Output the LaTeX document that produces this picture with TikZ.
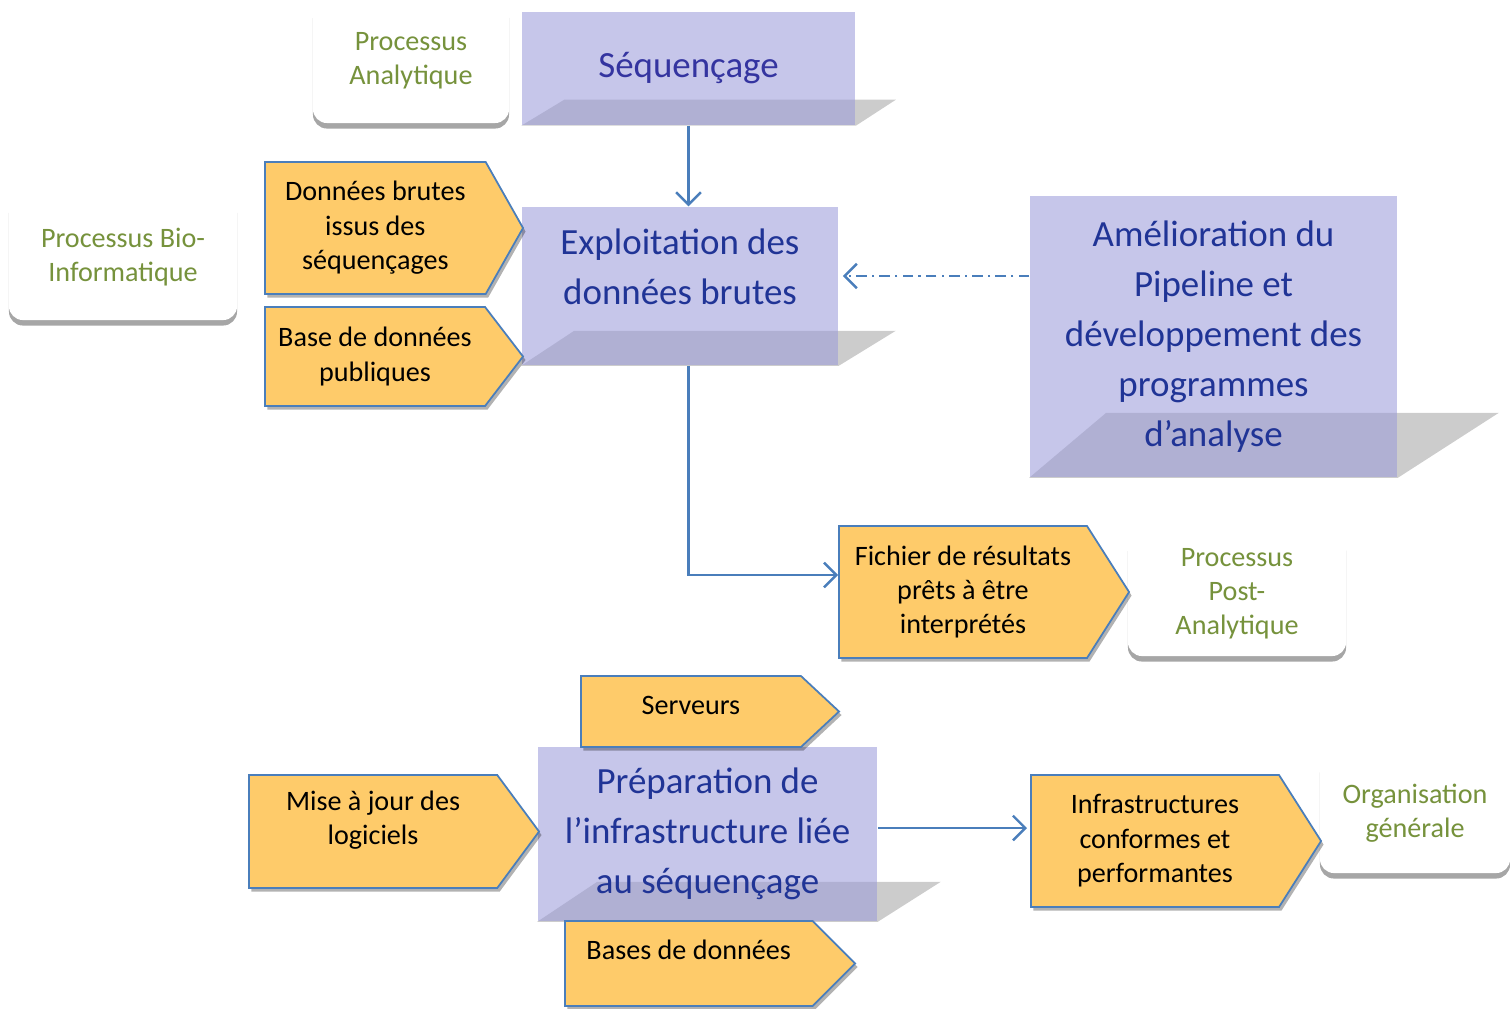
\documentclass[tikz,border=0pt]{standalone}
\usepackage{fontspec}
\setmainfont{Carlito}
\usetikzlibrary{arrows.meta}
\usetikzlibrary{shapes.symbols}
\usetikzlibrary{shadows}
\usetikzlibrary{calc}

\definecolor{lavender}{RGB}{155,155,218}
\definecolor{slabgray}{RGB}{204,204,204}
\definecolor{gold}{RGB}{254,203,106}
\definecolor{linkblue}{RGB}{74,126,187}
\definecolor{taskblue}{RGB}{32,52,150}
\definecolor{taskviolet}{RGB}{52,52,160}
\definecolor{taggreen}{RGB}{118,146,60}

\pgfdeclarelayer{background}
\pgfsetlayers{background,main}

\begin{document}
\begin{tikzpicture}[x=0.01cm, y=-0.01cm]
		\tikzset{task/.style = {rectangle, fill=lavender, fill opacity=0.57, text opacity=1,
				text=taskblue, align=center, inner sep=0pt,
				font=\fontsize{10.5}{14.2}\selectfont}}
		\tikzset{item/.style = {signal, signal to=east, draw=linkblue, line width=0.5pt,
				fill=gold, align=center, inner sep=0pt, anchor=west,
				font=\fontsize{8}{9.8}\selectfont,
				drop shadow={shadow xshift=0.25mm, shadow yshift=-0.35mm, opacity=0.3, fill=black}}}
		\tikzset{tag/.style = {rectangle, rounded corners=4pt, fill=white, align=center,
				text=taggreen, font=\fontsize{8}{9.7}\selectfont,
				drop shadow={shadow xshift=0mm, shadow yshift=-0.55mm, opacity=1, fill=black!35}}}
		\tikzset{edge/.style = {->, > = {Straight Barb[length=3.5pt, width=7pt]}, draw=linkblue, line width=0.7pt}}
		\useasboundingbox (0,0) rectangle (1510,1008);
		% labels
		\node[tag, minimum width=1.96cm, minimum height=1.24cm] (ana) at (411,61) {Processus\\Analytique};
		\node[tag, minimum width=2.28cm, minimum height=1.26cm] (bio) at (123,257) {Processus Bio-\\Informatique};
		\node[tag, minimum width=2.18cm, minimum height=1.24cm] (post) at (1237,594) {Processus\\Post-\\Analytique};
		\node[tag, minimum width=1.90cm, minimum height=1.20cm] (org) at (1415,813) {Organisation\\générale};
		% steps
		\node[task, text=taskviolet, minimum width=3.33cm, minimum height=1.13cm] (seq) at (688.5,68.5) {Séquençage};
		\node[task, minimum width=3.16cm, minimum height=1.58cm, text depth=11pt] (exploit) at (680,286) {Exploitation des\\données brutes};
		\node[task, minimum width=3.67cm, minimum height=2.81cm] (amel) at (1213.5,336.5) {Amélioration du\\Pipeline et\\développement des\\programmes\\d’analyse};
		\node[task, minimum width=3.39cm, minimum height=1.74cm] (prep) at (707.5,834) {Préparation de\\l’infrastructure liée\\au séquençage};
		\begin{pgfonlayer}{background}
			\fill[slabgray] (seq.south west) -- ++(43,-26) -- ($(seq.south east)+(40,-26)$) -- (seq.south east) -- cycle;
			\fill[slabgray] (exploit.south west) -- ++(53,-35) -- ($(exploit.south east)+(57,-35)$) -- (exploit.south east) -- cycle;
			\fill[slabgray] (amel.south west) -- ++(77,-65) -- ($(amel.south east)+(101,-65)$) -- (amel.south east) -- cycle;
			\fill[slabgray] (prep.south west) -- ++(60,-40) -- ($(prep.south east)+(63,-40)$) -- (prep.south east) -- cycle;
		\end{pgfonlayer}
		% inputs and outputs
		\node[item, minimum width=2.58cm, minimum height=1.32cm, signal pointer angle=121] (raw) at (264,228) {Données brutes\\issus des\\séquençages};
		\node[item, minimum width=2.58cm, minimum height=0.99cm, signal pointer angle=105] (pubdb) at (264,356.5) {Base de données\\publiques};
		\node[item, minimum width=2.90cm, minimum height=1.32cm, signal pointer angle=115] (results) at (838,592) {Fichier de résultats\\prêts à être\\interprétés};
		\node[item, minimum width=2.58cm, minimum height=0.71cm, signal pointer angle=86, text depth=3.6pt] (servers) at (580,711.5) {Serveurs};
		\node[item, minimum width=2.90cm, minimum height=1.13cm, signal pointer angle=107, text depth=7.7pt] (updates) at (248,831.5) {Mise à jour des\\logiciels};
		\node[item, minimum width=2.90cm, minimum height=0.85cm, signal pointer angle=90, text depth=7.6pt] (dbs) at (564,963.5) {Bases de données};
		\node[item, minimum width=2.90cm, minimum height=1.32cm, signal pointer angle=115] (infra) at (1030,841) {Infrastructures\\conformes et\\performantes};
		% links
		\draw[edge] (seq.south) -- (seq.south |- exploit.north);
		\draw[edge] (seq.south |- exploit.south) |- ([yshift=0.17cm]results.west);
		\draw[edge, dash pattern=on 3pt off 1.5pt on 0.6pt off 1.5pt] ([yshift=0.1cm]exploit.east -| amel.west) -- ([yshift=0.1cm, xshift=0.04cm]exploit.east);
		\draw[edge] ([yshift=0.06cm]prep.east) -- ([yshift=0.06cm, xshift=-0.03cm]prep.east -| infra.west);
\end{tikzpicture}
\end{document}
